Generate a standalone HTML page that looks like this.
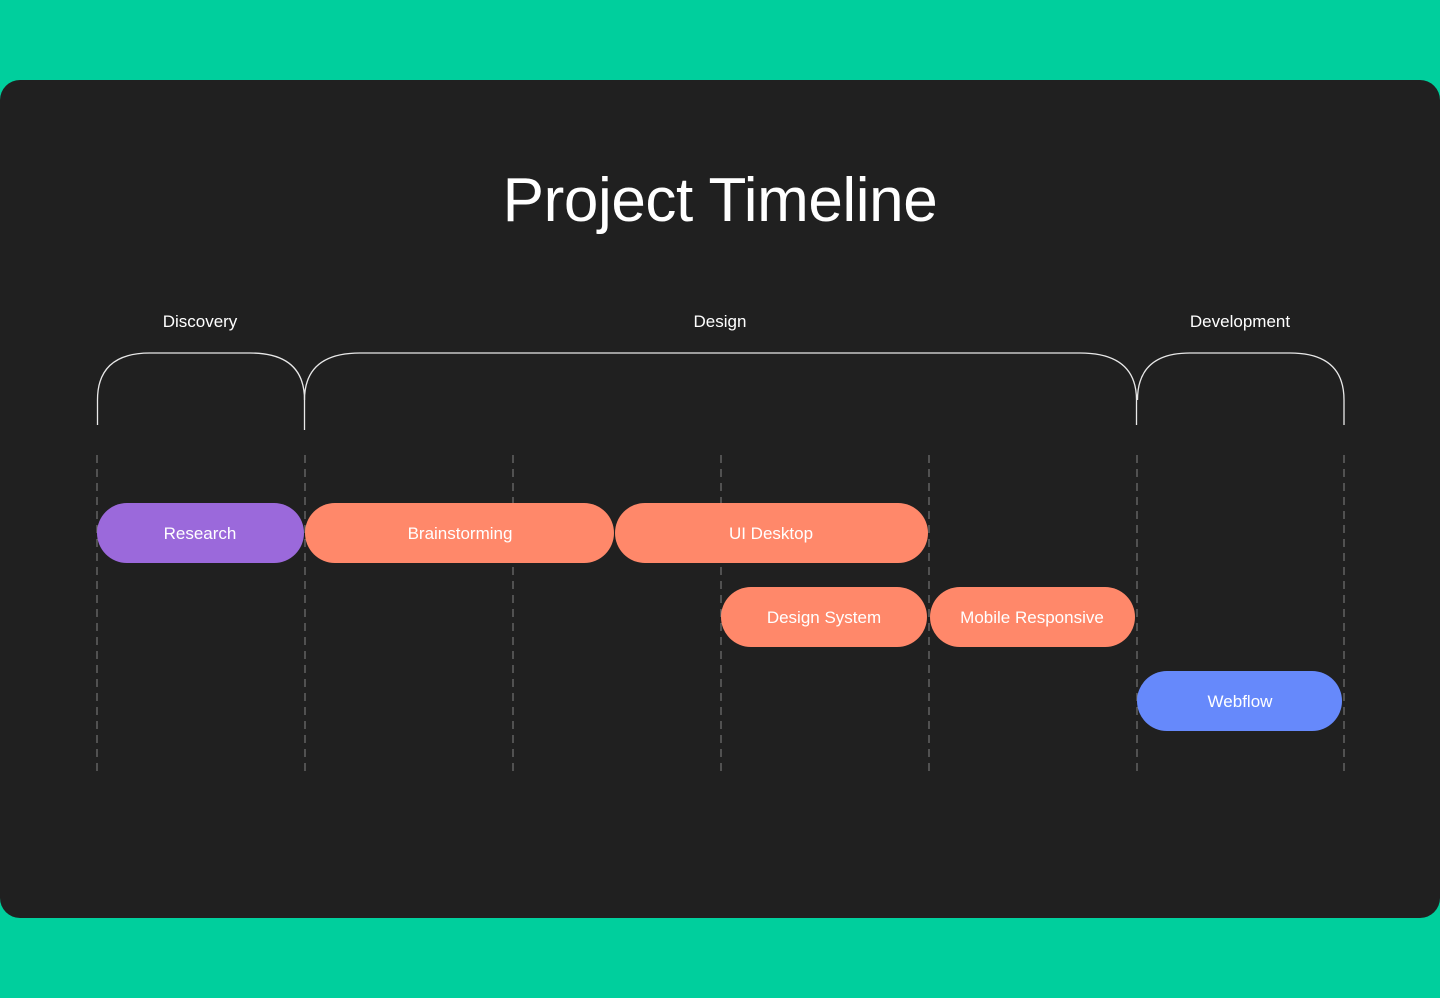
<!DOCTYPE html>
<html><head><meta charset="utf-8"><style>
html,body{margin:0;padding:0;background:#00CF9D;width:1440px;height:998px;overflow:hidden}
svg{display:block}
text{font-family:"Liberation Sans",sans-serif;fill:#fff}
</style></head><body>
<svg width="1440" height="998" viewBox="0 0 1440 998">
<rect x="0" y="0" width="1440" height="998" fill="#00CF9D"/>
<rect x="0" y="80" width="1440" height="838" rx="20" fill="#202020"/>
<text x="720" y="221" font-size="62" text-anchor="middle" letter-spacing="-0.4">Project Timeline</text>
<g font-size="17" text-anchor="middle">
<text x="200" y="327">Discovery</text>
<text x="720" y="327">Design</text>
<text x="1240" y="327">Development</text>
</g>
<g fill="none" stroke="#e8e8e8" stroke-width="1.3">
<path d="M97.5 425 V400 Q97.5 353 150 353 H250 Q304.5 353 304.5 400 V430"/>
<path d="M304.5 400 Q304.5 353 360 353 H1080 Q1136.5 353 1136.5 400 V425"/>
<path d="M1137.5 400 Q1137.5 353 1190 353 H1290 Q1344 353 1344 400 V425"/>
</g>
<g stroke="#7a7a7a" stroke-width="1.1" stroke-dasharray="8 6">
<line x1="97" y1="455" x2="97" y2="773"/>
<line x1="305" y1="455" x2="305" y2="773"/>
<line x1="513" y1="455" x2="513" y2="773"/>
<line x1="721" y1="455" x2="721" y2="773"/>
<line x1="929" y1="455" x2="929" y2="773"/>
<line x1="1137" y1="455" x2="1137" y2="773"/>
<line x1="1344" y1="455" x2="1344" y2="773"/>
</g>
<rect x="97" y="503" width="207" height="60" rx="30" fill="#9B69DB"/>
<rect x="305" y="503" width="309" height="60" rx="30" fill="#FF886A"/>
<rect x="615" y="503" width="313" height="60" rx="30" fill="#FF886A"/>
<rect x="721" y="587" width="206" height="60" rx="30" fill="#FF886A"/>
<rect x="930" y="587" width="205" height="60" rx="30" fill="#FF886A"/>
<rect x="1137" y="671" width="205" height="60" rx="30" fill="#6689FB"/>
<g font-size="17" text-anchor="middle">
<text x="200" y="539">Research</text>
<text x="460" y="539">Brainstorming</text>
<text x="771" y="539">UI Desktop</text>
<text x="824" y="623">Design System</text>
<text x="1032" y="623">Mobile Responsive</text>
<text x="1240" y="707">Webflow</text>
</g>
</svg>
</body></html>
